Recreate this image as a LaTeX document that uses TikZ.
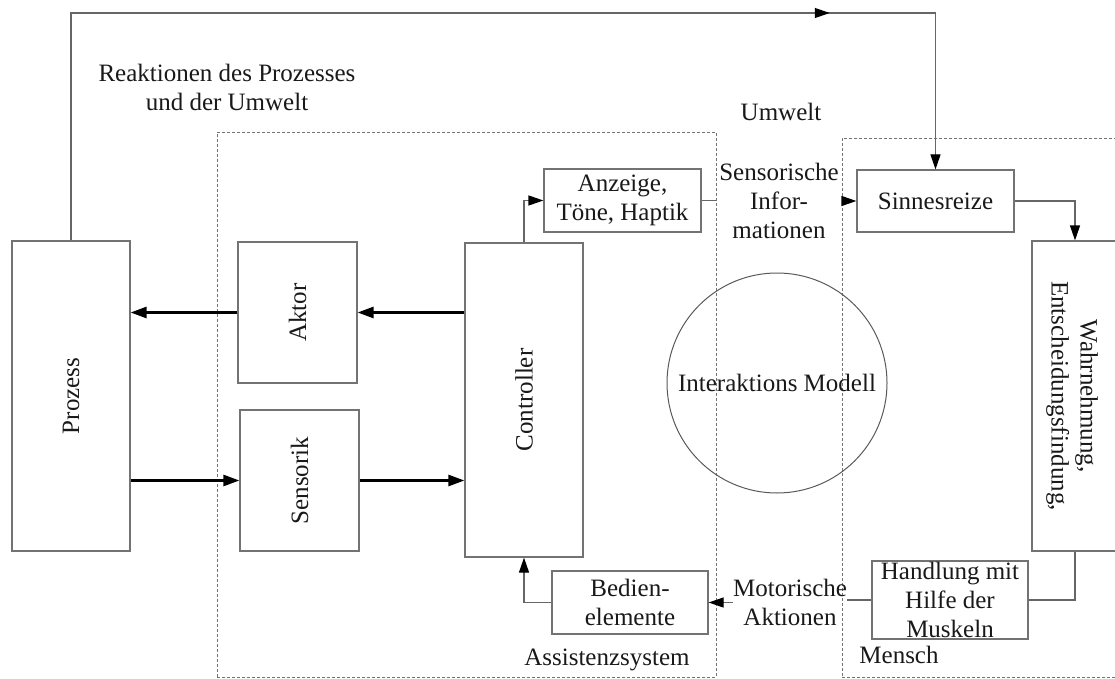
\documentclass[tikz,border=0pt]{standalone}
\usepackage{fontspec}
\setmainfont{Liberation Serif}
\usetikzlibrary{arrows.meta,decorations.markings}
\begin{document}
\begin{tikzpicture}[x=1pt,y=-1pt,
  every node/.style={font=\fontsize{25}{29}\selectfont, text=black!90},
  box/.style={draw=black!55, line width=1.2pt, inner sep=0pt},
  zone/.style={draw=black!55, line width=0.9pt, dash pattern=on 3pt off 2pt, inner sep=0pt},
  txt/.style={inner sep=0pt, align=center},
  thinline/.style={draw=black!60, line width=1.2pt},
  head/.style={-{Triangle[length=15pt,width=10pt,color=black]}},
  thinarrow/.style={thinline, head},
  thickarrow/.style={draw=black, line width=2.6pt, -{Triangle[length=16pt,width=11pt]}},
]
\useasboundingbox (0,0) rectangle (1115,679);
\clip (0,0) rectangle (1115,679);

% system boundaries
\node[zone, minimum width=499, minimum height=545] (asys) at (466.5,404.5) {};
\node[zone, minimum width=288, minimum height=539] (mensch) at (986,407.5) {};

% blocks
\node[box, minimum width=118, minimum height=310] (proz) at (71,396) {};
\node[txt, rotate=90] (prozt) at (proz.center) {Prozess};
\node[box, minimum width=119, minimum height=141] (aktor) at (297.5,312.5) {};
\node[txt, rotate=90] (aktort) at (aktor.center) {Aktor};
\node[box, minimum width=119, minimum height=141] (sens) at (299.5,480.5) {};
\node[txt, rotate=90] (senst) at (sens.center) {Sensorik};
\node[box, minimum width=118, minimum height=314] (ctrl) at (524,400) {};
\node[txt, rotate=90] (ctrlt) at (ctrl.center) {Controller};
\node[box, minimum width=157, minimum height=63, align=center] (anz) at (622.5,200.5) {Anzeige,\\Töne, Haptik};
\node[box, minimum width=157, minimum height=62] (sinn) at (935.5,201) {Sinnesreize};
\node[box, minimum width=86, minimum height=310] (wahr) at (1075,396) {};
\node[txt, rotate=-90] (wahrt) at ([xshift=-3pt]wahr.center) {Wahrnehmung,\\Entscheidungsfindung,};
\node[box, minimum width=156, minimum height=78] (hand) at (950,600) {};
\node[txt] (handt) at (hand.center) {Handlung mit\\Hilfe der\\Muskeln};
\node[box, minimum width=156, minimum height=63, align=center] (bed) at (630,602.5) {Bedien-\\elemente};
\node[draw=black!65, line width=1pt, circle, minimum size=220, inner sep=0pt] (model) at (777,383) {Interaktions Modell};

% free labels
\node[txt] (reak) at (227,87) {Reaktionen des Prozesses\\und der Umwelt};
\node[txt] (umw) at (781,112) {Umwelt};
\node[txt] (sinfo) at (779,201) {Sensorische\\Infor-\\mationen};
\node[txt] (mot) at (790,602) {Motorische\\Aktionen};
\node[txt] (asyst) at (607,660) {Assistenzsystem};
\node[txt] (menscht) at (899,655) {Mensch};

% feedback from the process to the senses
\coordinate (topy) at (0,13);
\draw[thinarrow,
  decoration={markings, mark=at position 0.79 with {\arrow{Triangle[length=15pt,width=10pt,color=black]}}},
  postaction={decorate}]
  (proz.north) -- (proz.north |- topy) -- (sinn.north |- topy) -- (sinn.north);

% signal paths inside the assistance system
\draw[thickarrow] (ctrl.west |- aktor.east) -- (aktor.east);
\draw[thickarrow] (aktor.west) -- (proz.east |- aktor.west);
\draw[thickarrow] (proz.east |- sens.west) -- (sens.west);
\draw[thickarrow] (sens.east) -- (ctrl.west |- sens.east);
\draw[thinarrow] (ctrl.north) |- (anz.west);
\draw[thinline] (anz.east) -- (anz.east -| asys.east);
\draw[thinarrow] (sinn.west -| mensch.west) -- (sinn.west);

% human loop
\draw[thinarrow] (sinn.east) -| (wahr.north);
\draw[thinline] (wahr.south) |- (hand.east);
\draw[thinline] (hand.west) -- (mot.east |- hand.west);
\draw[thinarrow] (mot.west |- bed.east) -- (bed.east);
\draw[thinarrow] (bed.west) -| (ctrl.south);
\end{tikzpicture}
\end{document}
